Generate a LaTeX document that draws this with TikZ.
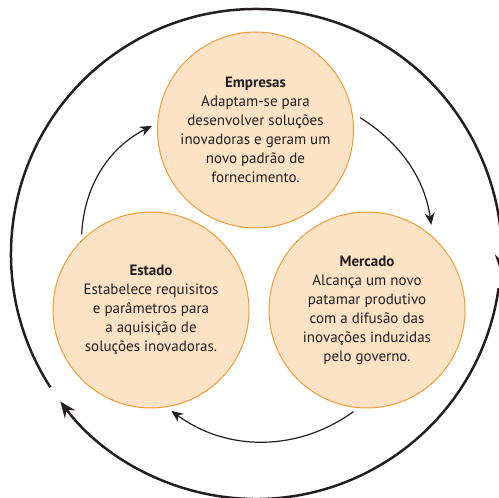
\documentclass[tikz,border=0pt]{standalone}
\usepackage{fontspec}
\setmainfont{PT Sans}
\usetikzlibrary{arrows.meta}
\definecolor{bubblefill}{HTML}{FDE3C6}
\definecolor{bubbleline}{HTML}{F39A32}
\definecolor{inktext}{HTML}{231F20}

\begin{document}
\begin{tikzpicture}[x=1pt,y=1pt,
    bubble/.style={circle, draw=bubbleline, fill=bubblefill, line width=1pt,
      minimum size=196pt, inner sep=0pt, align=center, text=inktext,
      font=\fontsize{15}{19}\selectfont},
    cyclearrow/.style={-{Stealth[length=12pt,width=10pt]}, line width=1.2pt, draw=inktext},
    bigarrow/.style={-{Stealth[length=16pt,width=13pt]}, line width=2.5pt, draw=inktext}]
    \useasboundingbox (0,0) rectangle (499,498);

    % Outer cycle
    \coordinate (outer) at (256,244);
    \draw[bigarrow] (outer) ++(213:245) arc[start angle=213, end angle=-4, radius=245];
    \draw[bigarrow] (outer) ++(-8:245) arc[start angle=-8, end angle=-143, radius=245];

    % The three actors
    \node[bubble] (empresas) at (255.5,368) {\textbf{Empresas}\\Adaptam-se para\\desenvolver soluções\\inovadoras e geram um\\novo padrão de\\fornecimento.};
    \node[bubble] (estado) at (151,188) {\textbf{Estado}\\Estabelece requisitos\\e parâmetros para\\a aquisição de\\soluções inovadoras.};
    \node[bubble] (mercado) at (367,188) {\textbf{Mercado}\\Alcança um novo\\patamar produtivo\\com a difusão das\\inovações induzidas\\pelo governo.};

    % Inner cycle
    \draw[cyclearrow, shorten <=6pt, shorten >=6pt] (estado.135) to[bend left=30] (empresas.176);
    \draw[cyclearrow, shorten <=9pt, shorten >=12pt] (empresas.10) to[bend left=25] (mercado.48);
    \draw[cyclearrow, shorten <=6pt, shorten >=6pt] (mercado.265) to[bend left=36] (estado.279);
\end{tikzpicture}
\end{document}
